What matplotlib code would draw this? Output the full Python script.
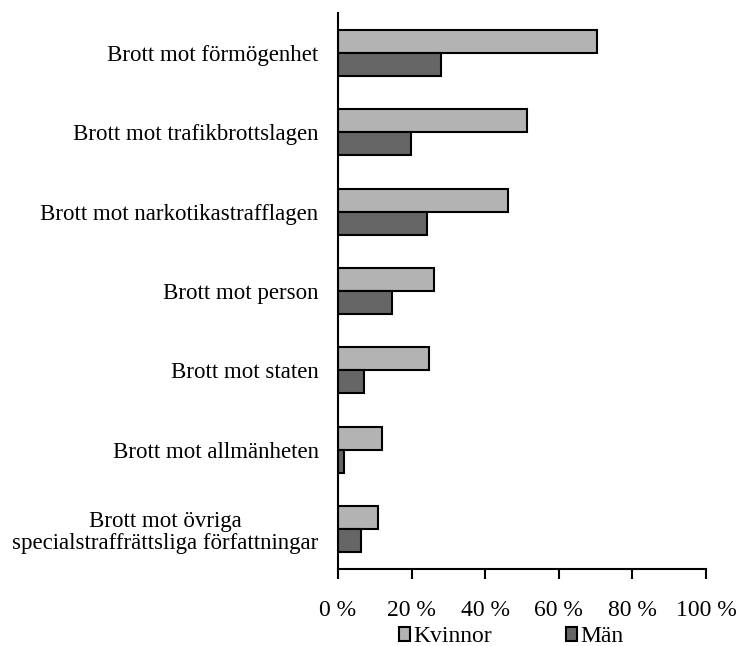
import matplotlib.pyplot as plt
import numpy as np

# kategorier och andelar (procent)
categories = [
    "Brott mot förmögenhet",
    "Brott mot trafikbrottslagen",
    "Brott mot narkotikastrafflagen",
    "Brott mot person",
    "Brott mot staten",
    "Brott mot allmänheten",
    "Brott mot övriga\nspecialstraffrättsliga författningar",
]
kvinnor = [70.5, 51.3, 46.3, 26.2, 24.8, 11.9, 11.0]
man = [28.0, 19.9, 24.3, 14.6, 7.1, 1.7, 6.3]
xticks = [0, 20, 40, 60, 80, 100]
xtick_labels = ["0 %", "20 %", "40 %", "60 %", "80 %", "100 %"]

plt.rcParams['font.family'] = ['Liberation Serif', 'DejaVu Serif']

fig = plt.figure(figsize=(7.54, 6.46), dpi=100)
ax = fig.add_axes([338 / 754, 1 - 569 / 646, 368 / 754, 556 / 646])

y = np.arange(len(categories))
h = 0.29
ax.barh(y - h / 2, kvinnor, height=h, color="#b3b3b3", edgecolor="black", linewidth=1.5, label="Kvinnor")
ax.barh(y + h / 2, man, height=h, color="#666666", edgecolor="black", linewidth=1.5, label="Män")

ax.set_ylim(len(categories) - 0.5, -0.5)
ax.set_xlim(0, 100)
ax.set_yticks(y)
ax.set_yticklabels(categories, fontsize=16.5, multialignment="center", linespacing=1.05)
ax.tick_params(axis="y", length=0, pad=14)
ax.set_xticks(xticks)
ax.set_xticklabels(xtick_labels, fontsize=17)
ax.tick_params(axis="x", length=7, width=1.5, direction="out", pad=15)

for side in ["top", "right"]:
    ax.spines[side].set_visible(False)
for side in ["left", "bottom"]:
    ax.spines[side].set_linewidth(1.5)

fig.legend(loc="center", bbox_to_anchor=(0.678, 0.014), ncol=2, frameon=False,
           fontsize=17, handlelength=0.48, handleheight=0.48, handletextpad=0.15, columnspacing=3.1)

fig.savefig("out.png", dpi=100)
